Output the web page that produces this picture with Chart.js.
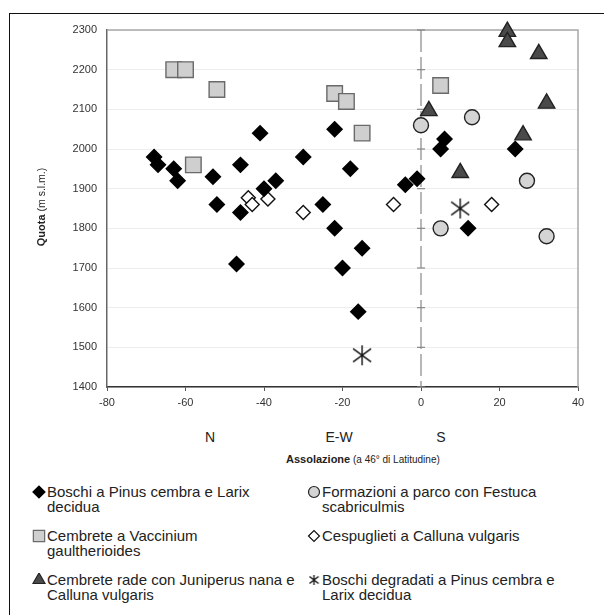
<!DOCTYPE html>
<html>
<head>
<meta charset="utf-8">
<script src="https://cdn.jsdelivr.net/npm/chart.js@4.4.1/dist/chart.umd.min.js"></script>
<style>
  body { margin: 0; background: #fff; font-family: "Liberation Sans", Arial, sans-serif; color: #222; }
  #wrap { position: relative; width: 604px; height: 615px; overflow: hidden; }
  #frame { position: absolute; left: 9px; top: 13px; width: 700px; height: 700px;
           border-left: 1.5px solid #111; border-top: 1.5px solid #111; }
  #c { position: absolute; left: 0; top: 0; }
  .lbl { position: absolute; white-space: nowrap; }
  #ytitle { left: 41px; top: 207px; font-size: 10.5px; transform: translate(-50%, -50%) rotate(-90deg); }
  #ytitle b, #xtitle b { font-size: 11px; }
  #xtitle { left: 286px; top: 453px; font-size: 10px; }
  .dir { top: 429px; font-size: 14px; transform: translateX(-50%); }
  .leg { position: absolute; font-size: 15px; line-height: 15px; white-space: nowrap; }
  .leg canvas { position: absolute; left: -15px; top: 1px; }
</style>
</head>
<body>
<div id="wrap">
  <div id="frame"></div>
  <canvas id="c" width="604" height="420"></canvas>
  <div class="lbl" id="ytitle"><b>Quota</b> (m s.l.m.)</div>
  <div class="lbl dir" style="left:210px">N</div>
  <div class="lbl dir" style="left:339px">E-W</div>
  <div class="lbl dir" style="left:441px">S</div>
  <div class="lbl" id="xtitle"><b>Assolazione</b> (a 46° di Latitudine)</div>
  <div id="legend"></div>
</div>
<script>
// Boschi a Pinus cembra e Larix decidua
const boschiX = [-68, -67, -63, -62, -53, -52, -46, -46, -47, -41, -40, -37, -30, -25, -22, -22, -18, -20, -15, -16, -4, -1, 5, 6, 24, 12];
const boschiY = [1980, 1960, 1950, 1920, 1930, 1860, 1960, 1840, 1710, 2040, 1900, 1920, 1980, 1860, 2050, 1800, 1950, 1700, 1750, 1590, 1910, 1925, 2000, 2025, 2000, 1800];
// Cembrete a Vaccinium gaultherioides
const vaccX = [-63, -60, -52, -58, -22, -19, -15, 5];
const vaccY = [2200, 2200, 2150, 1960, 2140, 2120, 2040, 2160];
// Cembrete rade con Juniperus nana e Calluna vulgaris
const junX = [22, 22, 30, 32, 26, 2, 10];
const junY = [2296, 2270, 2240, 2115, 2035, 2096, 1940];
// Formazioni a parco con Festuca scabriculmis
const festX = [0, 13, 27, 5, 32];
const festY = [2060, 2080, 1920, 1800, 1780];
// Cespuglieti a Calluna vulgaris
const callX = [-44, -43, -39, -30, -7, 18];
const callY = [1877, 1860, 1874, 1840, 1860, 1860];
// Boschi degradati a Pinus cembra e Larix decidua
const degrX = [-15, 10];
const degrY = [1480, 1850];

const xTicks = [-80, -60, -40, -20, 0, 20, 40];
const yTicks = [1400, 1500, 1600, 1700, 1800, 1900, 2000, 2100, 2200, 2300];

const pts = (xs, ys) => xs.map((x, i) => ({ x, y: ys[i] }));

function asterisk(w, h, lw) {
  const c = document.createElement('canvas');
  c.width = w; c.height = h;
  const g = c.getContext('2d');
  g.strokeStyle = '#111';
  g.lineWidth = lw;
  g.beginPath();
  g.moveTo(w / 2, 1); g.lineTo(w / 2, h - 1);
  g.moveTo(1, h * 0.2); g.lineTo(w - 1, h * 0.8);
  g.moveTo(w - 1, h * 0.2); g.lineTo(1, h * 0.8);
  g.stroke();
  return c;
}

const series = [
  { label: 'Boschi a Pinus cembra e Larix\ndecidua', xs: boschiX, ys: boschiY,
    style: 'rectRot', r: 7.5, fill: '#000', line: '#000', lr: 6, col: 0, row: 0 },
  { label: 'Cembrete a Vaccinium\ngaultherioides', xs: vaccX, ys: vaccY,
    style: 'rect', r: 11, fill: '#cfcfcf', line: '#6a6a6a', lr: 8, col: 0, row: 1 },
  { label: 'Cembrete rade con Juniperus nana e\nCalluna vulgaris', xs: junX, ys: junY,
    style: 'triangle', r: 9.5, fill: '#4a4a4a', line: '#222', lr: 7, col: 0, row: 2 },
  { label: 'Formazioni a parco con Festuca\nscabriculmis', xs: festX, ys: festY,
    style: 'circle', r: 7.5, fill: '#d4d4d4', line: '#222', lr: 5.5, col: 1, row: 0 },
  { label: 'Cespuglieti a Calluna vulgaris', xs: callX, ys: callY,
    style: 'rectRot', r: 7, fill: '#fff', line: '#111', lr: 5.5, col: 1, row: 1 },
  { label: 'Boschi degradati a Pinus cembra e\nLarix decidua', xs: degrX, ys: degrY,
    style: asterisk(20, 22, 1.4), legStyle: asterisk(11, 12, 1.3), r: 10, fill: '#000', line: '#000', lr: 6, col: 1, row: 2 }
];

const refLine = {
  id: 'refLine',
  beforeDatasetsDraw(chart) {
    const { ctx, chartArea: a, scales: { x, y } } = chart;
    ctx.save();
    ctx.strokeStyle = '#a8a8a8';
    ctx.lineWidth = 1.5;
    ctx.beginPath();
    ctx.moveTo(a.left, a.top); ctx.lineTo(a.right, a.top); ctx.lineTo(a.right, a.bottom);
    ctx.stroke();
    const x0 = x.getPixelForValue(0);
    ctx.strokeStyle = '#888';
    ctx.lineWidth = 1.2;
    ctx.setLineDash([22, 5]);
    ctx.beginPath(); ctx.moveTo(x0, a.top); ctx.lineTo(x0, a.bottom); ctx.stroke();
    ctx.setLineDash([]);
    yTicks.forEach(v => {
      const py = y.getPixelForValue(v);
      ctx.beginPath(); ctx.moveTo(x0 - 4, py); ctx.lineTo(x0 + 4, py); ctx.stroke();
    });
    ctx.restore();
  }
};

new Chart(document.getElementById('c'), {
  type: 'scatter',
  data: {
    datasets: series.map(s => ({
      label: s.label.replace('\n', ' '),
      data: pts(s.xs, s.ys),
      pointStyle: s.style,
      pointRadius: s.r,
      pointHoverRadius: s.r,
      backgroundColor: s.fill,
      borderColor: s.line,
      borderWidth: 1.4,
      clip: false
    }))
  },
  options: {
    responsive: false,
    animation: false,
    layout: { padding: { left: 0, top: 30, right: 26, bottom: 0 } },
    plugins: { legend: { display: false }, tooltip: { enabled: false } },
    scales: {
      x: {
        type: 'linear', min: -80, max: 40,
        afterBuildTicks: s => { s.ticks = xTicks.map(v => ({ value: v })); },
        afterFit: s => { s.height = 33; },
        grid: { drawOnChartArea: false, drawTicks: true, tickLength: 4, color: '#555' },
        border: { color: '#333', width: 1.5 },
        ticks: { color: '#333', padding: 5, font: { family: 'Liberation Sans', size: 11 }, callback: v => String(v) }
      },
      y: {
        type: 'linear', min: 1400, max: 2300,
        afterBuildTicks: s => { s.ticks = yTicks.map(v => ({ value: v })); },
        afterFit: s => { s.width = 107; },
        grid: { drawTicks: false, color: 'rgba(0,0,0,0.07)' },
        border: { color: '#666', width: 1.5 },
        ticks: { color: '#333', padding: 10, font: { family: 'Liberation Sans', size: 11 }, callback: v => String(v) }
      }
    }
  },
  plugins: [refLine]
});

// legend
const legend = document.getElementById('legend');
const colLeft = [47, 322];
const rowTop = [484, 528, 572];
series.forEach(s => {
  const d = document.createElement('div');
  d.className = 'leg';
  d.style.left = colLeft[s.col] + 'px';
  d.style.top = rowTop[s.row] + 'px';
  d.innerHTML = s.label.split('\n').join('<br>');
  const m = document.createElement('canvas');
  m.width = 14; m.height = 14;
  const g = m.getContext('2d');
  g.fillStyle = s.fill;
  g.strokeStyle = s.line;
  g.lineWidth = 1.2;
  Chart.helpers.drawPoint(g, { pointStyle: s.legStyle || s.style, radius: s.lr, rotation: 0, borderWidth: 1.2 }, 7, 7);
  d.appendChild(m);
  legend.appendChild(d);
});
</script>
</body>
</html>
